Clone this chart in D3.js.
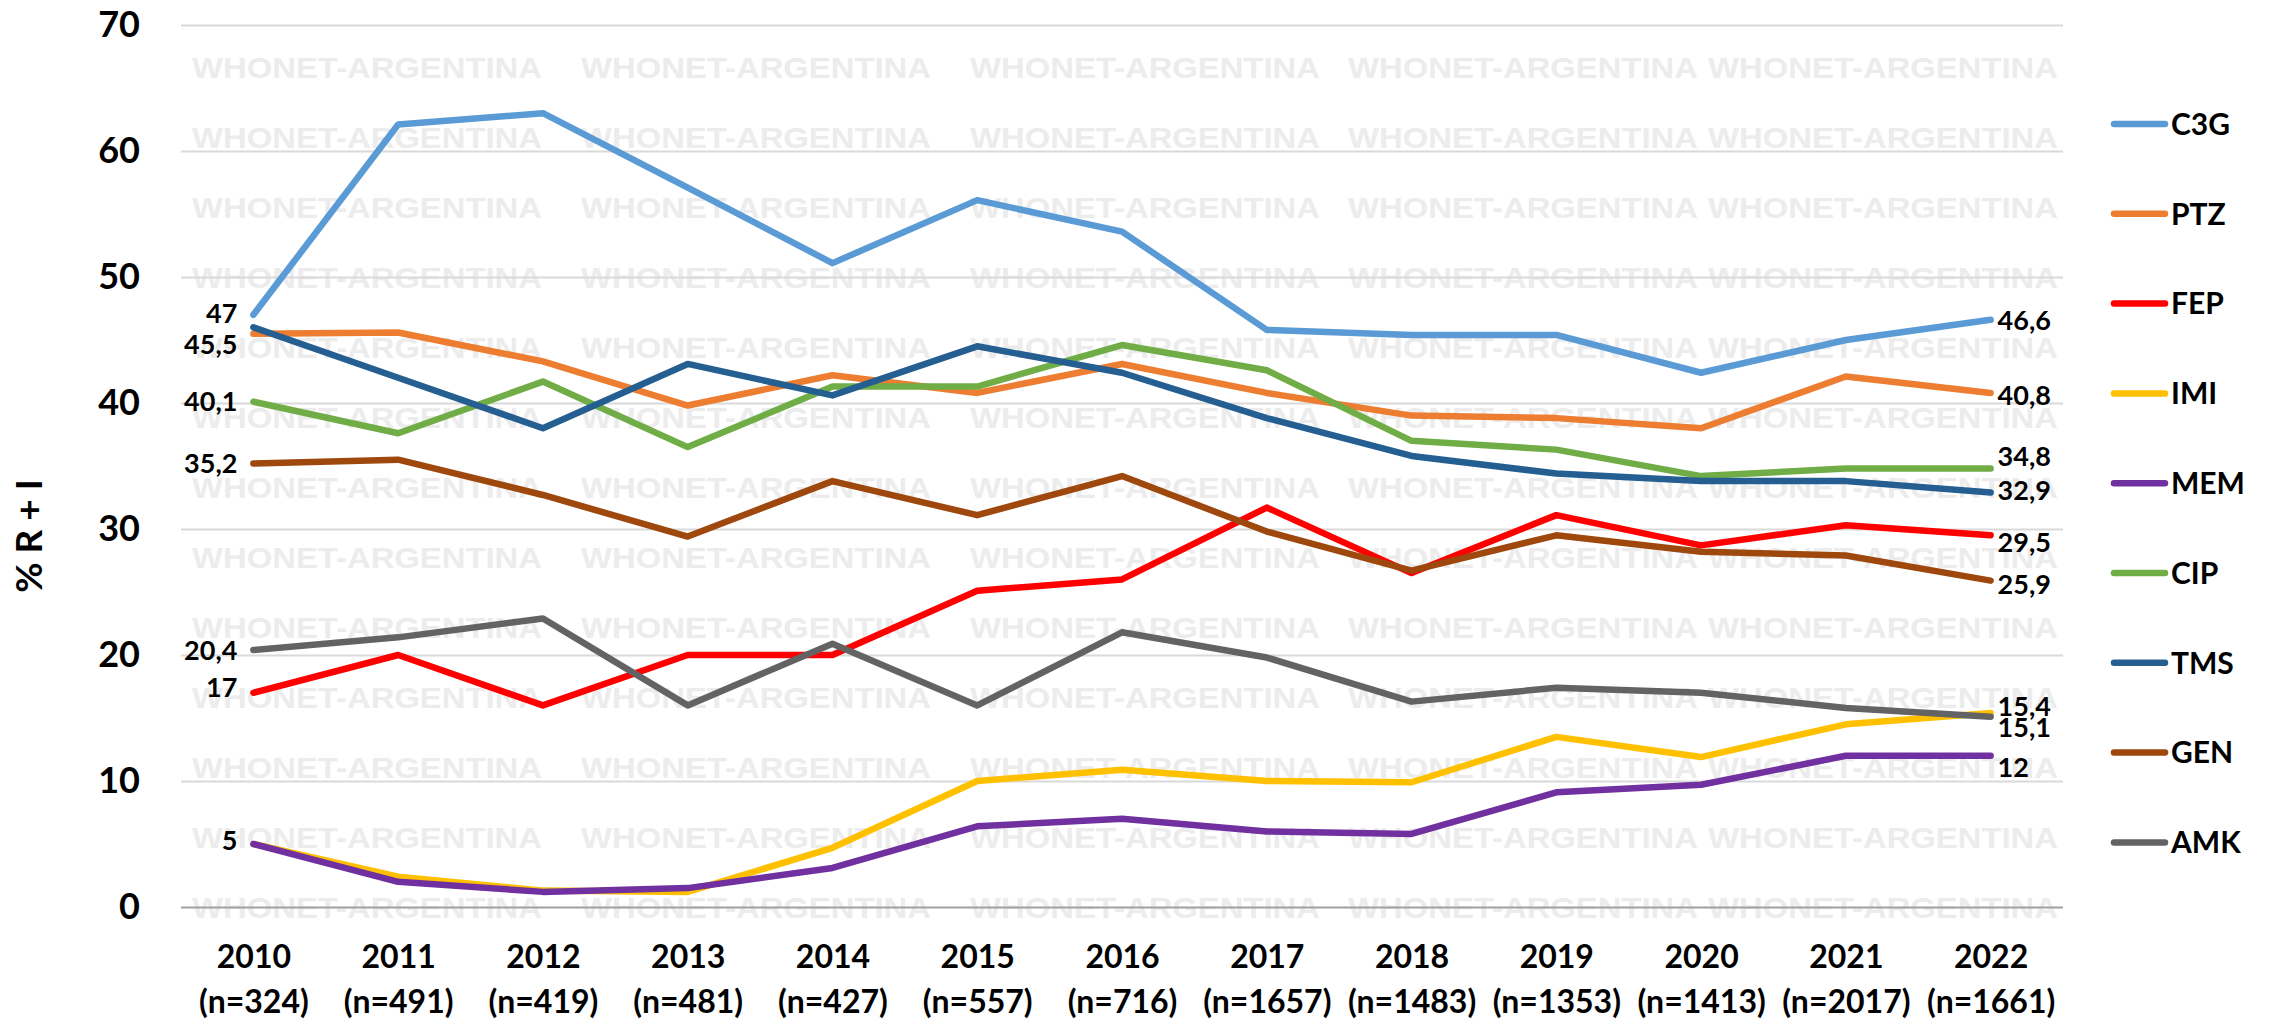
<!DOCTYPE html>
<html>
<head>
<meta charset="utf-8">
<script src="https://cdn.jsdelivr.net/npm/d3@7"></script>
<style>
  body { margin: 0; background: #fff; }
  svg text { font-family: Lato, "Open Sans", sans-serif; font-weight: bold; fill: #000; }
  .wm { font-family: "Liberation Sans Narrow", "Liberation Sans", Arial, sans-serif; fill: #ececec; }
</style>
</head>
<body>
<div id="chart"></div>
<script>
// data
var years = ["2010", "2011", "2012", "2013", "2014", "2015", "2016", "2017", "2018", "2019", "2020", "2021", "2022"];
var nValues = [324, 491, 419, 481, 427, 557, 716, 1657, 1483, 1353, 1413, 2017, 1661];
var seriesNames = ["C3G", "PTZ", "FEP", "IMI", "MEM", "CIP", "TMS", "GEN", "AMK"];
var c3g = [47, 62.1, 63, 57.1, 51.1, 56.1, 53.6, 45.8, 45.4, 45.4, 42.4, 45, 46.6];
var ptz = [45.5, 45.6, 43.3, 39.8, 42.2, 40.8, 43.1, 40.8, 39, 38.8, 38, 42.1, 40.8];
var fep = [17, 20, 16, 20, 20, 25.1, 26, 31.7, 26.5, 31.1, 28.7, 30.3, 29.5];
var imi = [5, 2.4, 1.3, 1.2, 4.7, 10, 10.9, 10, 9.9, 13.5, 11.9, 14.5, 15.4];
var mem = [5, 2, 1.2, 1.5, 3.1, 6.4, 7, 6, 5.8, 9.1, 9.7, 12, 12];
var cip = [40.1, 37.6, 41.7, 36.5, 41.3, 41.3, 44.6, 42.6, 37, 36.3, 34.2, 34.8, 34.8];
var tms = [46, 42, 38, 43.1, 40.6, 44.5, 42.4, 38.8, 35.8, 34.4, 33.8, 33.8, 32.9];
var gen = [35.2, 35.5, 32.7, 29.4, 33.8, 31.1, 34.2, 29.8, 26.7, 29.5, 28.2, 27.9, 25.9];
var amk = [20.4, 21.4, 22.9, 16, 20.9, 16, 21.8, 19.8, 16.3, 17.4, 17, 15.8, 15.1];
var yTicks = [0, 10, 20, 30, 40, 50, 60, 70];

// which series carry a value label at the first / last year
var startLabelled = ["C3G", "PTZ", "CIP", "GEN", "AMK", "FEP", "MEM"];
var endLabelled = ["C3G", "PTZ", "CIP", "TMS", "FEP", "GEN", "IMI", "AMK", "MEM"];

var colors = {
  C3G: "#5b9bd5", PTZ: "#ed7d31", FEP: "#ff0000", IMI: "#ffc000", MEM: "#7030a0",
  CIP: "#70ad47", TMS: "#255e91", GEN: "#9e480e", AMK: "#636363"
};
// small vertical nudges so labels don't overlap (px)
var startNudge = { C3G: -2, PTZ: 11, CIP: 0, GEN: 0, AMK: 0, FEP: -6, MEM: -4 };
var endNudge = { C3G: 0, PTZ: 2, CIP: -12, TMS: -2, FEP: 7, GEN: 4, IMI: -7, AMK: 11, MEM: 11 };

var seriesValues = [c3g, ptz, fep, imi, mem, cip, tms, gen, amk];
var series = seriesNames.map(function(name, i) {
  return { name: name, values: seriesValues[i] };
});

var width = 2274, height = 1020;
var plotLeft = 181, plotRight = 2063, plotTop = 25, plotBottom = 907;
var lineWidth = 6.5;

var svg = d3.select("#chart").append("svg")
    .attr("width", width)
    .attr("height", height);

var x = d3.scalePoint().domain(years).range([plotLeft, plotRight]).padding(0.5);
var y = d3.scaleLinear().domain([0, 70]).range([plotBottom, plotTop]);

// watermark
var wmCols = [192, 581, 970, 1348, 1708];
var wmRows = d3.range(13).map(function(k) { return 67 + 70 * k; });
var wm = svg.append("g");
wmRows.forEach(function(ry) {
  wmCols.forEach(function(cx) {
    wm.append("text")
      .attr("class", "wm")
      .attr("x", cx)
      .attr("y", ry)
      .attr("dy", "0.36em")
      .attr("font-size", 30)
      .attr("textLength", 350)
      .attr("lengthAdjust", "spacingAndGlyphs")
      .text("WHONET-ARGENTINA");
  });
});

// y axis + gridlines
var yAxis = svg.append("g")
    .attr("transform", "translate(" + plotLeft + ",0)")
    .call(d3.axisLeft(y).tickValues(yTicks).tickSize(-(plotRight - plotLeft)).tickPadding(41));
yAxis.select(".domain").remove();
yAxis.selectAll(".tick line")
    .attr("stroke", function(d) { return d === 0 ? "#a0a0a0" : "#d9d9d9"; })
    .attr("stroke-width", 2);
yAxis.selectAll(".tick text")
    .attr("font-size", 36)
    .attr("font-family", "Lato, sans-serif")
    .attr("font-weight", "bold");

// x axis labels (year + n)
var xAxis = svg.append("g")
    .attr("transform", "translate(0," + plotBottom + ")")
    .call(d3.axisBottom(x).tickSize(0).tickFormat(""));
xAxis.select(".domain").remove();
xAxis.selectAll(".tick").each(function(d, i) {
  var t = d3.select(this);
  t.append("text")
    .attr("y", 49)
    .attr("dy", "0.36em")
    .attr("text-anchor", "middle")
    .attr("font-size", 32)
    .text(d);
  t.append("text")
    .attr("y", 94)
    .attr("dy", "0.36em")
    .attr("text-anchor", "middle")
    .attr("font-size", 32)
    .text("(n=" + nValues[i] + ")");
});

// y axis title
svg.append("text")
    .attr("transform", "translate(42,536) rotate(-90)")
    .attr("text-anchor", "middle")
    .attr("font-size", 37)
    .text("% R + I");

// lines
var line = d3.line()
    .x(function(d, i) { return x(years[i]); })
    .y(function(d) { return y(d); });

svg.selectAll(".series")
    .data(series)
    .enter()
    .append("path")
    .attr("class", "series")
    .attr("d", function(d) { return line(d.values); })
    .attr("fill", "none")
    .attr("stroke", function(d) { return colors[d.name]; })
    .attr("stroke-width", lineWidth)
    .attr("stroke-linejoin", "round")
    .attr("stroke-linecap", "round");

function fmt(v) { return String(v).replace(".", ","); }

// value labels at first year
series.filter(function(d) { return startLabelled.indexOf(d.name) >= 0; }).forEach(function(d) {
  svg.append("text")
    .attr("x", x(years[0]) - 16)
    .attr("y", y(d.values[0]) + startNudge[d.name])
    .attr("dy", "0.36em")
    .attr("text-anchor", "end")
    .attr("font-size", 27)
    .text(fmt(d.values[0]));
});

// value labels at last year
var last = years.length - 1;
series.filter(function(d) { return endLabelled.indexOf(d.name) >= 0; }).forEach(function(d) {
  svg.append("text")
    .attr("x", x(years[last]) + 7)
    .attr("y", y(d.values[last]) + endNudge[d.name])
    .attr("dy", "0.36em")
    .attr("text-anchor", "start")
    .attr("font-size", 27)
    .text(fmt(d.values[last]));
});

// legend
var legend = svg.selectAll(".legend")
    .data(series)
    .enter()
    .append("g")
    .attr("class", "legend")
    .attr("transform", function(d, i) { return "translate(2111," + (124 + i * 89.8) + ")"; });

legend.append("line")
    .attr("x1", 3).attr("x2", 54)
    .attr("stroke", function(d) { return colors[d.name]; })
    .attr("stroke-width", lineWidth)
    .attr("stroke-linecap", "round");

legend.append("text")
    .attr("x", 60)
    .attr("dy", "0.36em")
    .attr("font-size", 30)
    .text(function(d) { return d.name; });
</script>
</body>
</html>
